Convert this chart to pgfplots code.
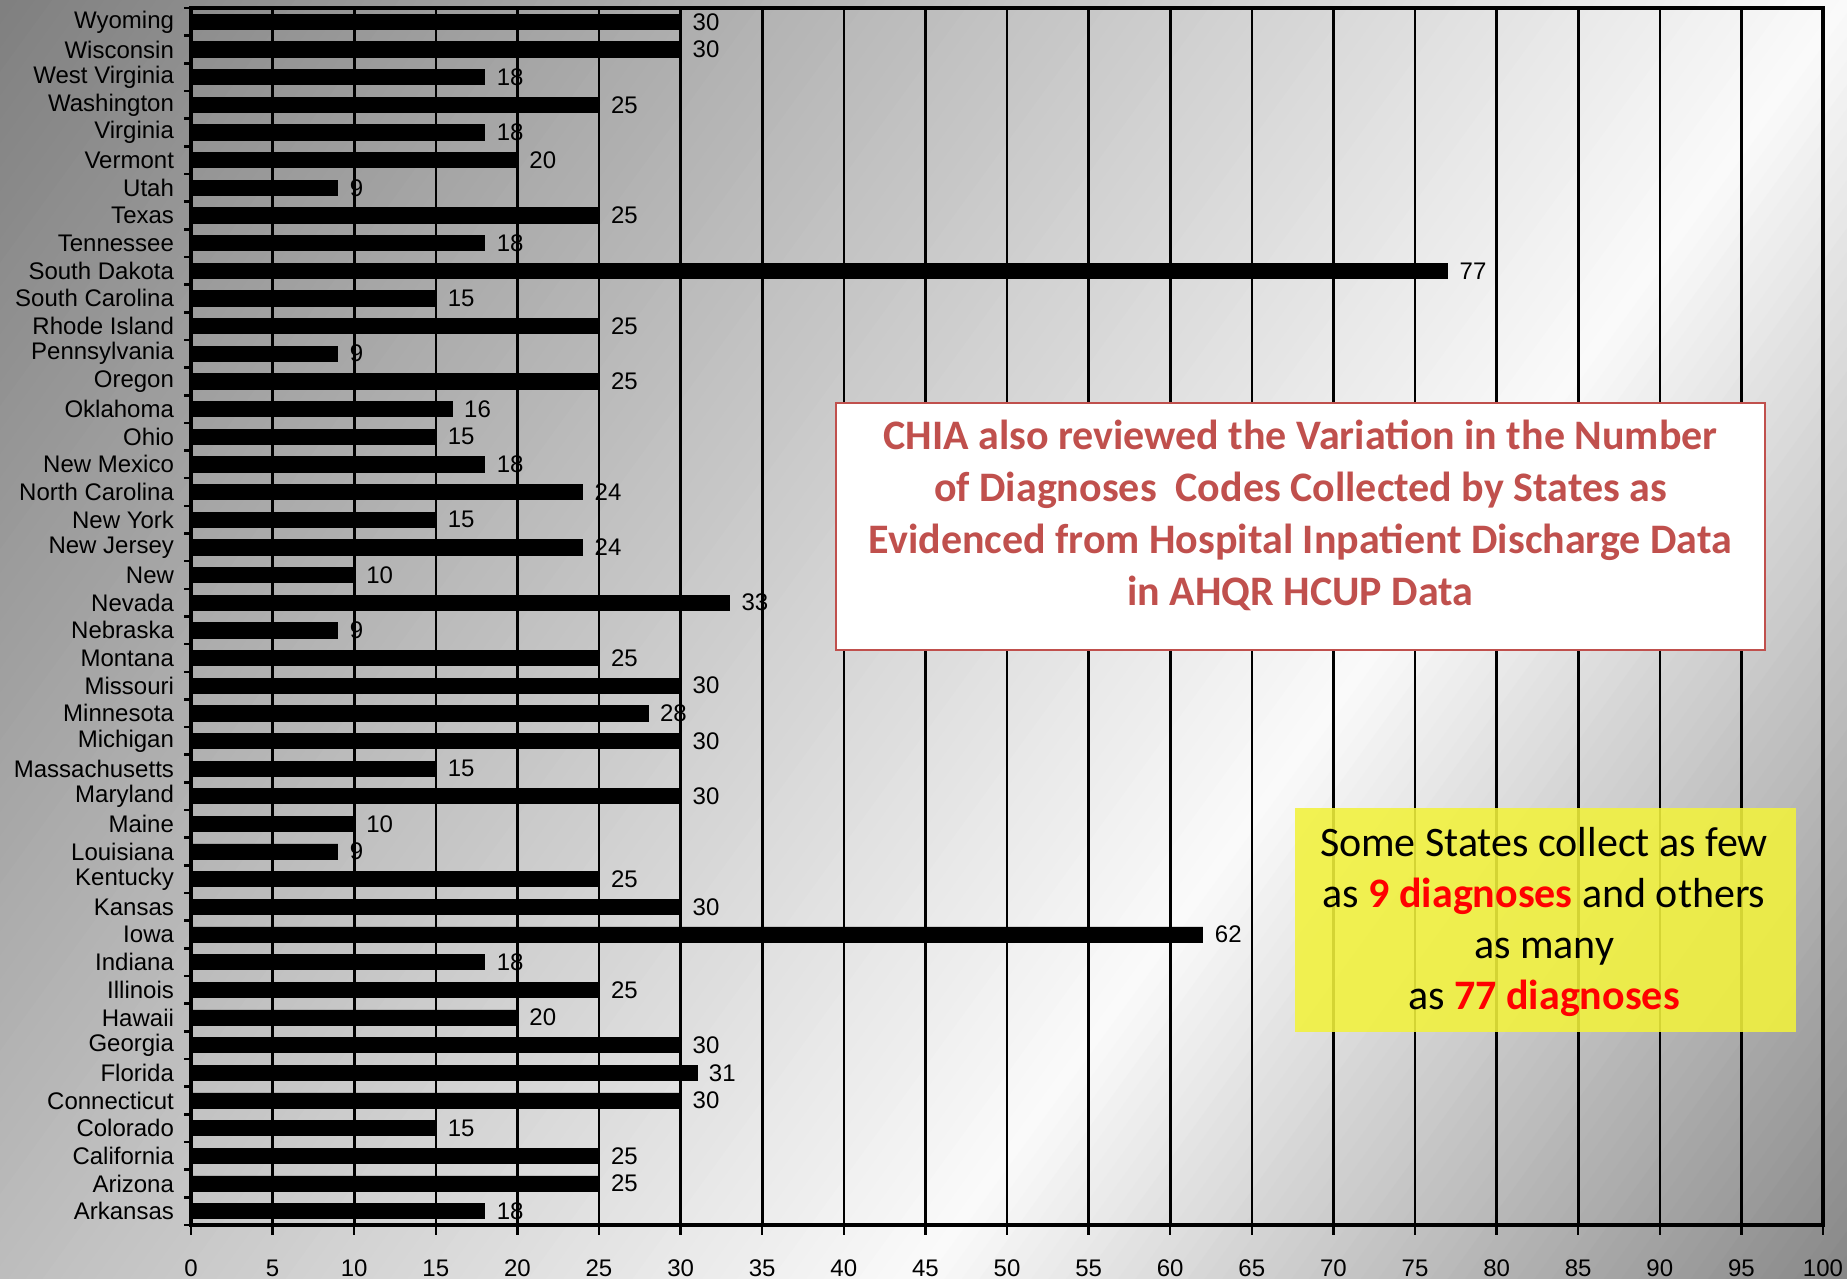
\documentclass[border=0pt]{standalone}
\usepackage{fontspec}
\setmainfont{Liberation Sans}
\newfontfamily\calfont{Carlito}
\usepackage{pgfplots}
\pgfplotsset{compat=1.18}
\definecolor{chiared}{HTML}{C0504D}
\definecolor{boxyellow}{HTML}{F2F23C}

\pgfplotstableread{
idx val
0 18
1 25
2 25
3 15
4 30
5 31
6 30
7 20
8 25
9 18
10 62
11 30
12 25
13 9
14 10
15 30
16 15
17 30
18 28
19 30
20 25
21 9
22 33
23 10
24 24
25 15
26 24
27 18
28 15
29 16
30 25
31 9
32 25
33 15
34 77
35 18
36 25
37 9
38 20
39 18
40 25
41 18
42 30
43 30
}\statedata

\begin{document}
\begin{tikzpicture}
\useasboundingbox (0,0) rectangle (923.5pt,639.5pt);
\begin{scope}
\clip (0,0) rectangle (923.5pt,639.5pt);
\begin{scope}[shift={(0pt,639.5pt)}, rotate=-36]
\foreach \i in {0,...,159}{
  \pgfmathsetmacro{\tA}{\i*7.01875}
  \pgfmathsetmacro{\tB}{\i*7.01875+7.7}
  \pgfmathsetmacro{\f}{(\i+0.5)/160}
  \pgfmathsetmacro{\g}{\f<0.6656 ? 0.50+0.48*\f/0.6656 : 0.98-0.45*(\f-0.6656)/0.3344}
  \definecolor{stripe}{gray}{\g}
  \fill[stripe] (\tA pt,-1500pt) rectangle (\tB pt,1500pt);
}
\end{scope}
\end{scope}

\begin{axis}[
  at={(95.5pt,27pt)}, anchor=south west,
  scale only axis, width=816pt, height=608.5pt,
  xbar, bar width=7.6pt,
  xmin=0, xmax=100, ymin=-0.5, ymax=43.5,
  xtick={0,5,...,100},
  ytick={0,...,43},
  yticklabels={Arkansas,Arizona,California,Colorado,Connecticut,Florida,Georgia,Hawaii,Illinois,Indiana,Iowa,Kansas,Kentucky,Louisiana,Maine,Maryland,Massachusetts,Michigan,Minnesota,Missouri,Montana,Nebraska,Nevada,New,New Jersey,New York,North Carolina,New Mexico,Ohio,Oklahoma,Oregon,Pennsylvania,Rhode Island,South Carolina,South Dakota,Tennessee,Texas,Utah,Vermont,Virginia,Washington,West Virginia,Wisconsin,Wyoming},
  tick pos=left,
  ytick style={draw=none},
  extra y ticks={-0.5,0.5,...,43.5},
  extra y tick labels={},
  extra y tick style={ytick style={draw=black,line width=1.3pt}, major tick length=3.5pt, tick pos=left},
  xmajorgrids, major grid style={black,line width=1.3pt},
  axis line style={black,line width=1.6pt},
  xtick style={black,line width=1.2pt},
  tick align=outside, major tick length=5pt,
  ticklabel style={font=\fontsize{12}{14}\selectfont},
  xticklabel style={yshift=-9pt},
  /pgf/number format/assume math mode=true,
  nodes near coords, point meta=x,
  nodes near coords style={font=\fontsize{12}{14}\selectfont, anchor=west, xshift=2.5pt},
]
\addplot[fill=black, draw=black] table[x=val, y=idx] {\statedata};
\end{axis}

\fill[white, draw=chiared, line width=0.8pt] (418pt,314.5pt) rectangle (882.5pt,438pt);
\node[align=center, text=chiared, font=\calfont\bfseries\fontsize{21}{26}\selectfont] at (650.25pt,381.75pt)
  {CHIA also reviewed the Variation in the Number\\of Diagnoses\ \ Codes Collected by States as\\Evidenced from Hospital Inpatient Discharge Data\\in AHQR HCUP Data};

\fill[boxyellow, fill opacity=0.88] (647.5pt,123.5pt) rectangle (898pt,235.5pt);
\node[align=center, text=black, font=\calfont\fontsize{21}{25.5}\selectfont] at (772pt,178.75pt)
  {Some States collect as few\\as \textcolor{red}{\bfseries 9 diagnoses} and others\\as many\\as \textcolor{red}{\bfseries 77 diagnoses}};
\end{tikzpicture}
\end{document}
